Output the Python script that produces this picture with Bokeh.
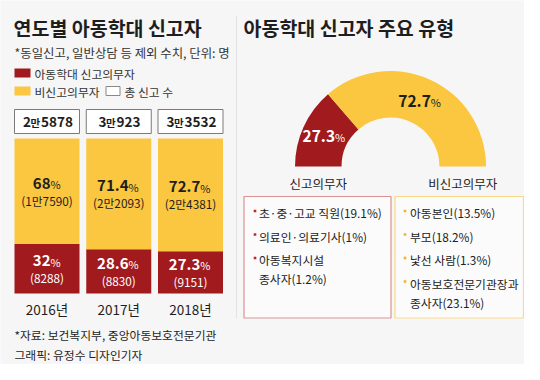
import math
from bokeh.plotting import figure
from bokeh.models import Range1d
from bokeh.core.properties import value
from bokeh.embed import file_html
from bokeh.resources import INLINE

# ---------------- data ----------------
years = ["2016년", "2017년", "2018년"]
totals = [25878, 30923, 33532]
mandatory = [8288, 8830, 9151]
non_mandatory = [17590, 22093, 24381]
mand_pct = [32, 28.6, 27.3]
non_pct = [68, 71.4, 72.7]

donut_labels = ["신고의무자", "비신고의무자"]
donut_pct = [27.3, 72.7]

mand_types = [["초·중·고교 직원(19.1%)"], ["의료인·의료기사(1%)"], ["아동복지시설", "종사자(1.2%)"]]
non_types = [["아동본인(13.5%)"], ["부모(18.2%)"], ["낯선 사람(1.3%)"], ["아동보호전문기관장과", "종사자(23.1%)"]]

title_left = "연도별 아동학대 신고자"
subtitle_left = "*동일신고, 일반상담 등 제외 수치, 단위: 명"
legend_items = ["아동학대 신고의무자", "비신고의무자", "총 신고 수"]
title_right = "아동학대 신고자 주요 유형"
source_note = "*자료: 보건복지부, 중앙아동보호전문기관"
credit_note = "그래픽: 유정수 디자인기자"

# ---------------- style ----------------
RED = "#a01a1e"
YEL = "#fbc640"
BG = "#f6f6f6"
INK = "#1e1e1e"
KR = "Noto Sans CJK KR"


def man(n):
    if n >= 10000:
        return f"{n // 10000}만{n % 10000}"
    return str(n)


def Y(v):  # image-pixel y -> data y
    return 380 - v


p = figure(width=524, height=364, x_range=Range1d(0, 524), y_range=Range1d(16, 380),
           toolbar_location=None, output_backend="svg", min_border=0)
p.axis.visible = False
p.grid.visible = False
p.outline_line_color = None
p.background_fill_color = BG
p.border_fill_color = BG

# bar scales
UNIT = 71.75
CX0 = 46.5
p.extra_x_ranges = {"bar": Range1d((0 - CX0) / UNIT, (524 - CX0) / UNIT)}
PXP = 1.55  # px per percent
BASE = 87   # data y of 0%
p.extra_y_ranges = {"pct": Range1d((16 - BASE) / PXP, (380 - BASE) / PXP)}


def T(x, y, s, size, color=INK, bold=False, align="left", xr="default", yr="default",
      xo=0, yo=0):
    p.text(x=[x], y=[y], text=[s], text_font=value(KR), text_font_size=value(f"{size}px"),
           text_font_style="bold" if bold else "normal", text_color=color,
           text_align=align, text_baseline="middle", x_range_name=xr, y_range_name=yr,
           x_offset=xo, y_offset=yo)


def w_est(s, size):
    w = 0
    for ch in s:
        if ch.isdigit():
            w += 0.555
        elif ch == ".":
            w += 0.28
        elif ch == "%":
            w += 0.88
        elif ch in "()":
            w += 0.33
        else:
            w += 0.92
    return w * size


# ---------------- left panel ----------------
T(13, Y(27), title_left, 19.5, bold=True)
T(14, Y(52), subtitle_left, 12.4, color="#333")

p.rect(x=[22], y=[Y(72.5)], width=16, height=9, fill_color=RED, line_color=None)
T(34, Y(72.5), legend_items[0], 11.8, color="#333")
p.rect(x=[22], y=[Y(90.5)], width=16, height=9, fill_color=YEL, line_color=None)
T(34, Y(90.5), legend_items[1], 11.8, color="#333")
p.rect(x=[112.5], y=[Y(90.5)], width=14, height=9, fill_color="white", line_color="#888", line_width=1)
T(124, Y(90.5), legend_items[2], 11.8, color="#333")

idx = list(range(len(years)))
BW = 65 / UNIT
p.vbar(x=idx, width=BW, bottom=0, top=mand_pct, fill_color=RED, line_color=None,
       x_range_name="bar", y_range_name="pct")
p.vbar(x=idx, width=BW, bottom=mand_pct, top=[a + b for a, b in zip(mand_pct, non_pct)],
       fill_color=YEL, line_color=None, x_range_name="bar", y_range_name="pct")

# total boxes
p.rect(x=idx, y=[Y(121)] * 3, width=BW, height=24, fill_color="white", line_color="#7a7a7a",
       line_width=1, x_range_name="bar")

for i in idx:
    tot = man(totals[i])
    a, b = tot.split("만")
    wa, wm, wb = w_est(a, 13.5), 10.5, w_est(b, 13.5)
    W = wa + wm + wb
    left = -W / 2
    T(i, Y(121), a, 13.5, bold=True, xr="bar", xo=left)
    T(i, Y(121.5), "만", 10.5, bold=True, xr="bar", xo=left + wa)
    T(i, Y(121), b, 13.5, bold=True, xr="bar", xo=left + wa + wm)

    for (pct_v, cnt, lo, hi, col) in [
        (non_pct[i], non_mandatory[i], mand_pct[i], 100, INK),
        (mand_pct[i], mandatory[i], 0, mand_pct[i], "white"),
    ]:
        mid = (lo + hi) / 2
        num = f"{pct_v:g}"
        wn = w_est(num, 15)
        wp = 0.88 * 11
        join = (wn - wp) / 2
        T(i, mid, num, 15, color=col, bold=True, align="right", xr="bar", yr="pct",
          xo=join, yo=-8)
        T(i, mid, "%", 11, color=col, align="left", xr="bar", yr="pct", xo=join, yo=-7)
        T(i, mid, f"({man(cnt)})", 11.8, color=col, align="center", xr="bar", yr="pct", yo=9)

    T(i, Y(308), years[i], 13.5, color=INK, align="center", xr="bar")

T(14, Y(334), source_note, 11.8, color=INK)
T(14, Y(354), credit_note, 11.8, color=INK)

# divider
p.segment(x0=[236], y0=[Y(15)], x1=[236], y1=[Y(318)], line_color="#e2e2e2", line_width=1)

# ---------------- right panel ----------------
T(243, Y(27), title_right, 19.5, bold=True)

DCX, DCY = 390, Y(166)
R_IN, R_OUT = 49, 95.5
ang = [math.pi * v / 100 for v in donut_pct]
red_start, red_end = math.pi - ang[0], math.pi
yel_start, yel_end = 0, math.pi - ang[0]
p.annular_wedge(x=[DCX], y=[DCY], inner_radius=R_IN, outer_radius=R_OUT,
                start_angle=[red_start], end_angle=[red_end], fill_color=RED, line_color=None)
p.annular_wedge(x=[DCX], y=[DCY], inner_radius=R_IN, outer_radius=R_OUT,
                start_angle=[yel_start], end_angle=[yel_end], fill_color=YEL, line_color=None)

RM = (R_IN + R_OUT) / 2
for (a0, a1, v, col) in [(red_start, red_end, donut_pct[0], "white"),
                         (yel_start, yel_end, donut_pct[1], INK)]:
    am = (a0 + a1) / 2
    lx, ly = DCX + RM * math.cos(am), DCY + RM * math.sin(am)
    num = f"{v:g}"
    wn = w_est(num, 15.5)
    wp = 0.88 * 11
    join = (wn - wp) / 2
    T(lx, ly, num, 15.5, color=col, bold=True, align="right", xo=join)
    T(lx, ly, "%", 11, color=col, align="left", xo=join, yo=1)

T(DCX - RM, Y(183), donut_labels[0], 12.5, align="center")
T(DCX + RM, Y(183), donut_labels[1], 12.5, align="center")

# boxes
p.quad(left=[243.5], right=[390.5], top=[Y(196)], bottom=[Y(317.5)], fill_color="#fbfbfb",
       line_color="#d99396", line_width=1.2)
p.quad(left=[394.5], right=[523], top=[Y(196)], bottom=[Y(317.5)], fill_color="#fbfbfb",
       line_color="#fcd98a", line_width=1.2)


def items(lst, bx, tx, col):
    y = 212
    for lines in lst:
        p.rect(x=[bx], y=[Y(y - 1.5)], width=2.6, height=2.6, fill_color=col, line_color=None)
        for j, ln in enumerate(lines):
            T(tx, Y(y), ln, 11.8, color="#222")
            y += 19 if j < len(lines) - 1 else 0
        y += 23.5


items(mand_types, 254.5, 258.5, "#c4252b")
items(non_types, 404.5, 409.5, "#f5b324")

open("out.html", "w").write(file_html(p, INLINE))
